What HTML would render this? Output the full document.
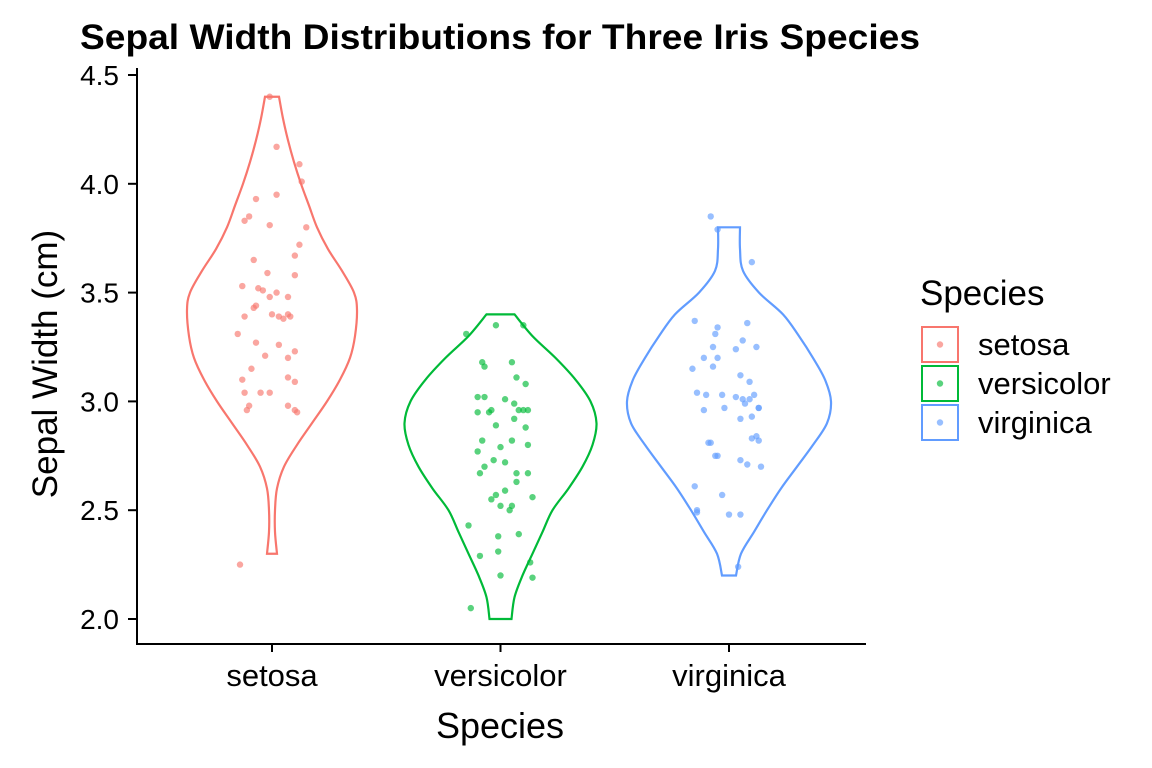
<!DOCTYPE html>
<html><head><meta charset="utf-8"><style>
body{margin:0;background:#fff;}
svg{display:block;font-family:"Liberation Sans",Arial,sans-serif;}
</style></head><body>
<svg id="chart" width="1152" height="768" viewBox="0 0 1152 768">
<text x="80" y="49" font-size="35" font-weight="bold" fill="#000" textLength="840" lengthAdjust="spacingAndGlyphs">Sepal Width Distributions for Three Iris Species</text>
<g id="plot"></g>
<line x1="137" y1="68" x2="137" y2="645" stroke="#000" stroke-width="2"/>
<line x1="136" y1="644" x2="866" y2="644" stroke="#000" stroke-width="2"/>
<g id="yticks"></g>
<g id="xticks"></g>
<text transform="translate(57,364) rotate(-90)" text-anchor="middle" font-size="35" fill="#000">Sepal Width (cm)</text>
<text x="500" y="738" text-anchor="middle" font-size="36" fill="#000">Species</text>
<text x="920" y="305" font-size="35" fill="#000">Species</text>
<g id="legend"></g>
</svg>
<script>
const categories = ["setosa","versicolor","virginica"];
const colors = ["#F8766D","#00BA38","#619CFF"];
const yTicks = [2.0,2.5,3.0,3.5,4.0,4.5];
const yTickLabels = ["2.0","2.5","3.0","3.5","4.0","4.5"];
// violin density grids (value, relative half-width)
const setosaGrid = [2.3,2.4,2.5,2.6,2.7,2.8,2.9,3.0,3.1,3.2,3.3,3.42,3.5,3.6,3.7,3.8,3.9,4.0,4.1,4.2,4.3,4.4];
const setosaDens = [5,3,3,5,12,25,40,55,68,78,83,85,82,70,56,45,37,29,22,16,11,7];
const versiGrid = [2.0,2.1,2.2,2.3,2.4,2.5,2.6,2.7,2.8,2.9,3.0,3.1,3.2,3.3,3.4];
const versiDens = [11,14,22,32,42,52,68,82,92,96,90,75,55,32,14];
const virgGrid = [2.2,2.3,2.4,2.5,2.6,2.7,2.8,2.9,3.0,3.1,3.2,3.3,3.4,3.5,3.6,3.7,3.8];
const virgDens = [7,12,25,38,52,68,84,98,102,96,84,70,54,30,14,11,11];
// jittered points
const setosaVals = [4.40,4.17,4.09,4.01,3.95,3.93,3.85,3.83,3.81,3.80,3.72,3.65,3.67,3.59,3.58,3.53,3.52,3.51,3.50,3.48,3.48,3.44,3.43,3.39,3.40,3.39,3.40,3.39,3.38,3.31,3.27,3.26,3.23,3.20,3.21,3.15,3.10,3.11,3.09,3.04,3.04,3.04,2.96,2.98,2.96,2.98,2.95,2.25];
const setosaJit = [-.01,.02,.12,.13,.02,-.07,-.10,-.12,-.01,.15,.12,-.08,.10,-.02,.10,-.13,-.06,-.04,.02,.07,-.01,-.07,-.08,-.12,0,.03,.07,.08,.05,-.15,-.07,.03,.10,.07,-.03,-.09,-.13,.07,.10,-.12,-.05,-.01,.10,-.10,-.11,.07,.11,-.14];
const versiVals = [3.35,3.31,3.35,3.18,3.18,3.16,3.11,3.08,3.02,3.02,3.01,2.99,2.96,2.96,2.96,2.96,2.95,2.95,2.92,2.89,2.88,2.82,2.82,2.77,2.79,2.80,2.73,2.72,2.70,2.67,2.67,2.67,2.59,2.63,2.57,2.55,2.56,2.52,2.50,2.52,2.43,2.38,2.39,2.29,2.31,2.26,2.20,2.19,2.05];
const versiJit = [-.02,-.15,.10,-.08,.05,-.07,.07,.11,-.10,-.07,.02,.06,-.04,.08,.10,.12,-.10,-.05,.06,-.02,.11,-.08,.05,-.10,0,.12,-.03,.02,-.07,-.09,.07,.12,.02,.07,-.02,-.04,.14,.05,.04,0,-.14,-.01,.08,-.09,-.01,.13,0,.14,-.13];
const virgVals = [3.85,3.79,3.64,3.37,3.34,3.36,3.31,3.28,3.25,3.24,3.25,3.20,3.20,3.15,3.16,3.12,3.09,3.04,3.03,3.03,3.02,3.01,3.01,2.99,3.03,2.97,2.97,2.97,2.96,2.92,2.93,2.84,2.81,2.81,2.83,2.82,2.75,2.75,2.73,2.70,2.71,2.61,2.57,2.50,2.49,2.48,2.48,2.24];
const virgJit = [-.08,-.05,.10,-.15,-.05,.08,-.06,.06,-.07,.03,.12,-.11,-.05,-.16,-.07,.05,.09,-.14,-.10,-.03,.03,.06,.09,.07,.11,.13,.13,-.02,-.11,.05,.10,.12,-.09,-.08,.10,.13,-.06,-.05,.05,.14,.08,-.15,-.03,-.14,-.14,.05,0,.04];

const NS="http://www.w3.org/2000/svg";
const yScale = v => 619 - (v-2)*217.6;
const xScale = i => 272 + i*228.5;
const densScale = d => d;
function mk(tag, attrs, parent){const e=document.createElementNS(NS,tag);for(const k in attrs)e.setAttribute(k,attrs[k]);parent.appendChild(e);return e;}

const plot=document.getElementById('plot');
const grids=[setosaGrid,versiGrid,virgGrid], dens=[setosaDens,versiDens,virgDens];
const vals=[setosaVals,versiVals,virgVals], jits=[setosaJit,versiJit,virgJit];

function smoothPath(pts){
  let d="M"+pts[0][0]+","+pts[0][1];
  for(let i=0;i<pts.length-1;i++){
    const p0=pts[Math.max(0,i-1)],p1=pts[i],p2=pts[i+1],p3=pts[Math.min(pts.length-1,i+2)];
    const c1=[p1[0]+(p2[0]-p0[0])/6,p1[1]+(p2[1]-p0[1])/6];
    const c2=[p2[0]-(p3[0]-p1[0])/6,p2[1]-(p3[1]-p1[1])/6];
    d+=" C"+c1[0]+","+c1[1]+" "+c2[0]+","+c2[1]+" "+p2[0]+","+p2[1];
  }
  return d;
}

categories.forEach((c,i)=>{
  const cx=xScale(i);
  const right=grids[i].map((v,j)=>[cx+densScale(dens[i][j]),yScale(v)]);
  const left=grids[i].map((v,j)=>[cx-densScale(dens[i][j]),yScale(v)]).reverse();
  let d=smoothPath(right);
  const l=smoothPath(left).replace(/^M/," L");
  d+=l+" Z";
  const p=mk('path',{d:d,fill:'none',stroke:colors[i],'stroke-width':2.2},plot);
  
  
  vals[i].forEach((v,j)=>{
    const pt=mk('circle',{cx:cx+jits[i][j]*228.5,cy:yScale(v),r:3.2,fill:colors[i],'fill-opacity':0.65},plot);
    
    
  });
  const xt=document.getElementById('xticks');
  const tk=mk('line',{x1:cx,x2:cx,y1:644,y2:652,stroke:'#000','stroke-width':2},xt);
  
  
  const tl=mk('text',{x:cx,y:686,'text-anchor':'middle','font-size':31,fill:'#000'},xt);
  tl.textContent=c;
  
  
  const lg=document.getElementById('legend');
  const by=327+i*39;
  const box=mk('rect',{x:922,y:by,width:36,height:35,fill:'#fff',stroke:colors[i],'stroke-width':2},lg);
  
  
  const dot=mk('circle',{cx:940,cy:by+17.5,r:3.2,fill:colors[i],'fill-opacity':0.65},lg);
  
  
  const lt=mk('text',{x:978,y:by+28,'font-size':31,fill:'#000'},lg);
  lt.textContent=c;
  
  
});
const yt=document.getElementById('yticks');
yTicks.forEach((v,j)=>{
  const y=yScale(v);
  const t=mk('line',{x1:128,x2:137,y1:y,y2:y,stroke:'#000','stroke-width':2},yt);
  
  
  const tx=mk('text',{x:119,y:y+10,'text-anchor':'end','font-size':28,fill:'#000'},yt);
  tx.textContent=yTickLabels[j];
  
  
});
</script>
</body></html>
